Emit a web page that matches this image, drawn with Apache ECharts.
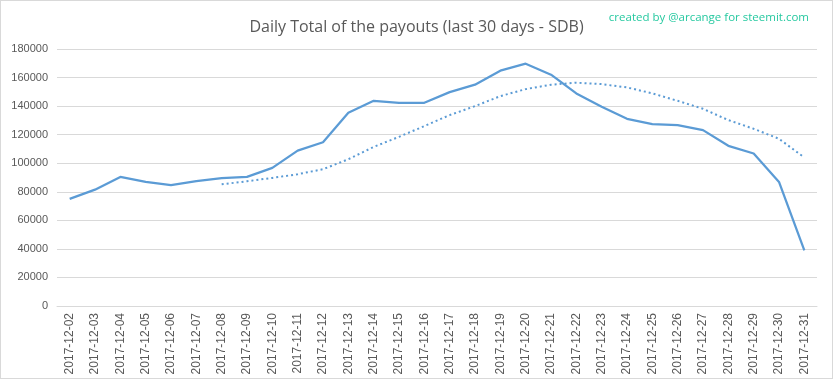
<!DOCTYPE html>
<html>
<head>
<meta charset="utf-8">
<script src="https://cdn.jsdelivr.net/npm/echarts@6/dist/echarts.min.js"></script>
<style>
html,body{margin:0;padding:0;background:#fff;}
#c{width:833px;height:379px;box-sizing:border-box;border:1px solid #d9d9d9;}
</style>
</head>
<body>
<div id="c"></div>
<script>
const categories = ['2017-12-02','2017-12-03','2017-12-04','2017-12-05','2017-12-06','2017-12-07','2017-12-08','2017-12-09','2017-12-10','2017-12-11','2017-12-12','2017-12-13','2017-12-14','2017-12-15','2017-12-16','2017-12-17','2017-12-18','2017-12-19','2017-12-20','2017-12-21','2017-12-22','2017-12-23','2017-12-24','2017-12-25','2017-12-26','2017-12-27','2017-12-28','2017-12-29','2017-12-30','2017-12-31'];
const payouts = [75000,81500,90400,86900,84600,87400,89500,90400,96700,108800,114700,135300,143700,142300,142300,149800,155000,164800,169700,162000,148900,139500,131100,127400,126700,123200,112200,106800,86900,38900];
const movingAvg = [null,null,null,null,null,null,85200,87400,89700,92300,95800,102800,111400,118500,126000,133700,140000,147000,151900,155000,156400,155400,153100,148900,143700,138100,130200,124100,117100,104000];
const yTicks = {min:0, max:180000, interval:20000};
const titleText = 'Daily Total of the payouts (last 30 days - SDB)';
const creditText = 'created by @arcange for steemit.com';

const chart = echarts.init(document.getElementById('c'), null, {renderer:'canvas'});
chart.setOption({
  animation:false,
  backgroundColor:'#fff',
  title:[{
    text:titleText, left:'center', top:13,
    textStyle:{fontFamily:'Open Sans', fontSize:16, fontWeight:'normal', color:'#595959'}
  },{
    text:creditText, right:18, top:6,
    textStyle:{fontFamily:'Open Sans', fontSize:11.5, fontWeight:'normal', color:'#26c9a0'}
  }],
  grid:{left:56, right:15, top:48, bottom:72, containLabel:false},
  xAxis:{
    type:'category', data:categories, boundaryGap:true,
    axisLine:{lineStyle:{color:'#d9d9d9', width:1}},
    axisTick:{show:false},
    axisLabel:{rotate:90, interval:0, margin:7, color:'#595959', fontFamily:'Liberation Sans', fontSize:12}
  },
  yAxis:{
    type:'value', min:yTicks.min, max:yTicks.max, interval:yTicks.interval,
    axisLine:{show:false}, axisTick:{show:false},
    splitLine:{lineStyle:{color:'#d9d9d9', width:1}},
    axisLabel:{margin:9, color:'#595959', fontFamily:'Liberation Sans', fontSize:11,
      formatter:function(v){return String(v);}}
  },
  series:[{
    type:'line', data:payouts, symbol:'none',
    lineStyle:{color:'#5b9bd5', width:2.25}
  },{
    type:'line', data:movingAvg, symbol:'none', connectNulls:false,
    lineStyle:{color:'#5b9bd5', width:2, type:[2,3]}
  }]
});
</script>
</body>
</html>
